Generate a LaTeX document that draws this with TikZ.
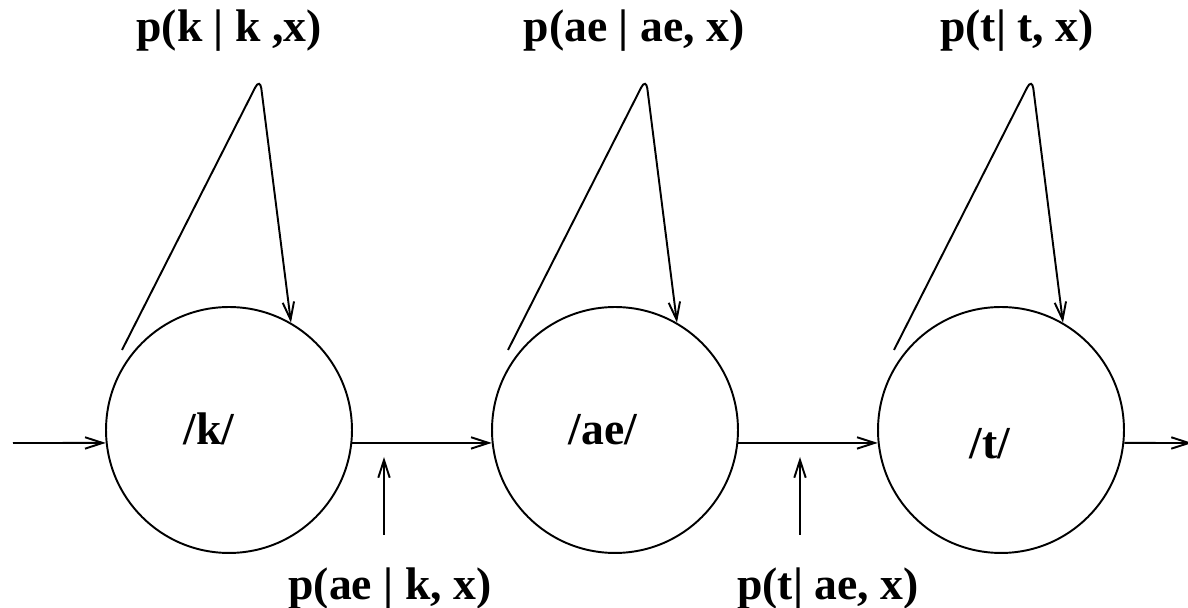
\documentclass[tikz,border=0pt]{standalone}
\usepackage{fontspec}
\setmainfont{Liberation Serif}
\usetikzlibrary{arrows.meta,calc}

\begin{document}
\begin{tikzpicture}[
    x=0.02cm, y=0.02cm,
    font=\fontsize{26}{30}\selectfont\bfseries,
    state/.style={circle, draw, line width=1.1pt, minimum size=4.92cm, inner sep=0pt},
    phone/.style={anchor=base, inner sep=0pt},
    prob/.style={anchor=base, inner sep=0pt},
    edge/.style={line width=1.1pt, -{Straight Barb[length=10pt, width=6.5pt]}},
]
    \useasboundingbox (0,0) rectangle (1188,608);

    % States
    \node[state] (kst) at (229,178) {};
    \node[state] (aest) at (615,178) {};
    \node[state] (tst) at (1001,178) {};
    \node[phone] (klab) at (209,163) {/k/};
    \node[phone] (aelab) at (603,163) {/ae/};
    \node[phone] (tlab) at (990,149) {/t/};

    % Entry and exit
    \coordinate (entry) at (13,165);
    \coordinate (exit) at (1192,165);
    \draw[edge] (entry) -- (kst.186);
    \draw[edge] (kst.-6) -- (aest.186);
    \draw[edge] (aest.-6) -- (tst.186);
    \draw[edge] (tst.-6) -- (exit);

    % Self loops
    \foreach \s in {kst, aest, tst} {
        \draw[edge, rounded corners=6pt] ($(\s.center)+(-107,80)$)
            -- ($(\s.center)+(31,352)$) -- (\s.60);
    }
    \node[prob] (kk) at (229,566) {p(k | k ,x)};
    \node[prob] (aeae) at (634,566) {p(ae | ae, x)};
    \node[prob] (tt) at (1017,566) {p(t| t, x)};

    % Transition probabilities
    \node[prob] (aek) at (390,8) {p(ae | k, x)};
    \node[prob] (tae) at (828,8) {p(t| ae, x)};
    \coordinate (kae) at (384,73);
    \coordinate (aet) at (800,73);
    \draw[edge] (kae) -- ++(0,78);
    \draw[edge] (aet) -- ++(0,78);
\end{tikzpicture}
\end{document}
